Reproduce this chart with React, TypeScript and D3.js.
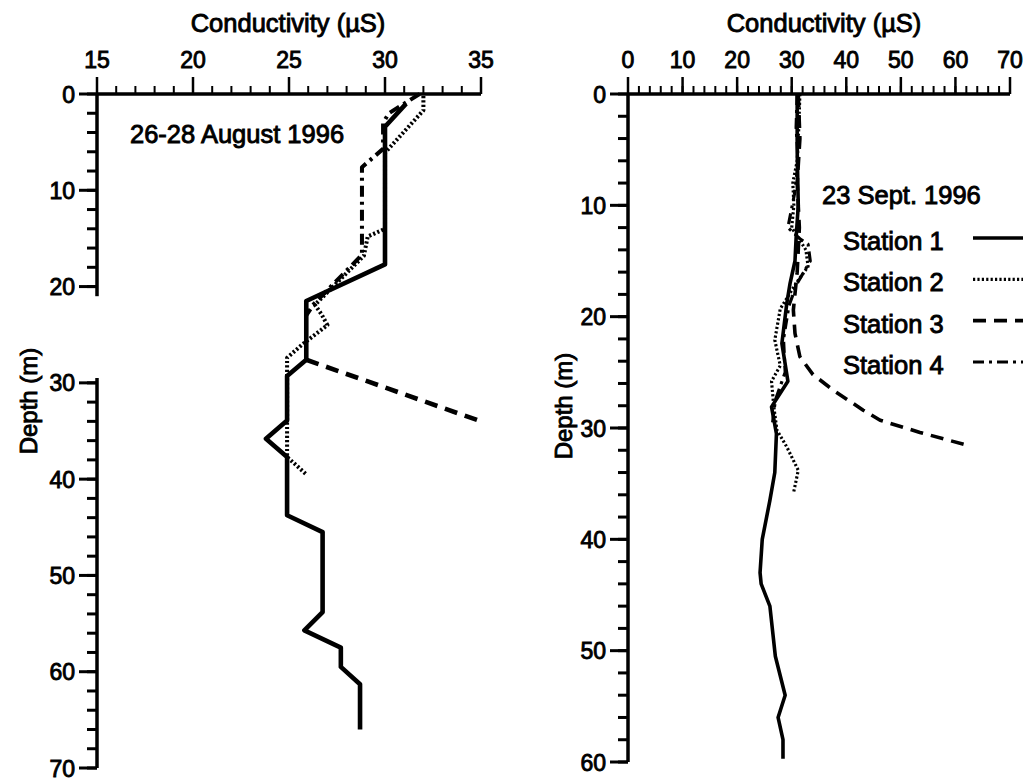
import React from "react";
import * as d3 from "d3";

// ---- 26-28 August 1996 profiles (conductivity µS, depth m) ----
const augSt1Cond = [31.1, 30.0, 30.0, 25.9, 25.9, 24.9, 24.9, 23.8, 24.9, 24.9, 26.75, 26.75, 25.8, 27.7, 27.7, 28.7, 28.7];
const augSt1Depth = [1.0, 3.4, 17.7, 21.5, 27.6, 29.3, 33.9, 35.8, 37.7, 43.75, 45.5, 53.8, 55.7, 57.5, 59.5, 61.3, 66.0];

const augSt2Cond = [32.0, 32.0, 30.0, 30.0, 29.1, 28.9, 26.35, 26.7, 27.0, 25.7, 24.9, 24.9, 24.9, 25.9];
const augSt2Depth = [0.2, 1.7, 6.1, 14.0, 14.8, 16.8, 21.9, 22.9, 24.0, 26.0, 27.4, 28.4, 37.7, 39.5];

const augSt3Cond = [25.9, 35.0];
const augSt3Depth = [27.6, 34.0];

const augSt4Cond = [31.8, 30.2, 29.9, 29.9, 28.8, 28.8, 26.3, 25.9];
const augSt4Depth = [0.0, 2.0, 3.0, 5.7, 7.6, 16.7, 21.8, 23.0];

// ---- 23 Sept. 1996 profiles ----
const sepSt1Cond = [31.0, 31.0, 31.2, 30.8, 30.6, 29.7, 29.1, 28.2, 29.3, 26.3, 27.2, 26.9, 26.0, 24.6, 24.2, 24.4, 26.0, 27.0, 28.8, 27.5, 28.4, 28.4];
const sepSt1Depth = [0, 5, 10, 13, 15, 17, 18.8, 22.4, 25.8, 28.1, 30.5, 34.0, 36.5, 40, 43, 44, 46, 50.5, 54, 56, 58, 59.7];

const sepSt2Cond = [31.5, 31.3, 31.0, 30.2, 30.4, 30.0, 32.6, 33.0, 30.8, 27.9, 26.9, 27.9, 26.3, 26.7, 27.3, 29.1, 31.2, 30.3];
const sepSt2Depth = [0, 3, 6, 8, 10, 12, 14, 15.5, 17, 19.3, 22.1, 24.4, 25.8, 28.0, 30.2, 31.7, 33.8, 35.9];

const sepSt3Cond = [31.2, 31.5, 31.0, 31.4, 31.0, 30.3, 30.6, 31.5, 33.9, 37.6, 43.1, 46.2, 53.5, 61.8];
const sepSt3Depth = [0, 4, 8, 12, 16, 19.4, 21.5, 23.6, 25.2, 26.6, 28.4, 29.3, 30.4, 31.5];

const sepSt4Cond = [31.0, 30.8, 31.2, 30.5, 29.3, 31.5, 33.0, 33.4, 31.0, 29.5, 28.5, 28.8, 27.0, 26.5];
const sepSt4Depth = [0, 3, 6, 9, 12, 13, 13.5, 15, 17, 19, 22, 25, 27.5, 29.5];

// ---- axis ticks and labels ----
const augCondTicks = [15, 20, 25, 30, 35];
const augDepthTicks = [0, 10, 20, 30, 40, 50, 60, 70];
const sepCondTicks = [0, 10, 20, 30, 40, 50, 60, 70];
const sepDepthTicks = [0, 10, 20, 30, 40, 50, 60];
const stationNames = ["Station 1", "Station 2", "Station 3", "Station 4"];
const augTitle = "26-28 August 1996";
const sepTitle = "23 Sept. 1996";
const xTitle = "Conductivity (\u00b5S)";
const yTitle = "Depth (m)";

const FONT = "'Liberation Sans', Arial, Helvetica, sans-serif";
const INK = "#000";

type Style = { dash?: string; width: number };
const styles: Style[] = [
  { width: 4 },
  { dash: "2.2,2.2", width: 3.5 },
  { dash: "13,8", width: 4 },
  { dash: "11,5,3,5", width: 3.5 },
];

function zip(a: number[], b: number[]): [number, number][] {
  return a.map((v, i) => [v, b[i]] as [number, number]);
}

// heavy sans label, outlined a little to give the dense printed look
function Label(props: {
  x: number;
  y: number;
  size: number;
  anchor?: "start" | "middle" | "end";
  rotate?: number;
  children: React.ReactNode;
}) {
  const { x, y, size, anchor = "start", rotate = 0, children } = props;
  return (
    <text
      transform={`translate(${x},${y}) rotate(${rotate})`}
      textAnchor={anchor}
      fontSize={size}
      fontFamily={FONT}
      fill={INK}
      stroke={INK}
      strokeWidth={0.9}
    >
      {children}
    </text>
  );
}

interface PanelProps {
  xDomain: [number, number];
  xRange: [number, number];
  yDomain: [number, number];
  yRange: [number, number];
  xTicks: number[];
  yTicks: number[];
  xMinorStep: number;
  yMinorStep: number;
  series: [number, number][][];
  lineScale: number;
  titleX: number;
  yLabelX: number;
  yLabelY: number;
  yBreak?: [number, number];
}

function Panel(p: PanelProps) {
  const x = d3.scaleLinear().domain(p.xDomain).range(p.xRange);
  const y = d3.scaleLinear().domain(p.yDomain).range(p.yRange);
  const line = d3
    .line<[number, number]>()
    .x((d) => x(d[0]))
    .y((d) => y(d[1]));

  const x0 = p.xRange[0];
  const y0 = p.yRange[0];
  const xMinor = d3.range(p.xDomain[0], p.xDomain[1] + 1e-9, p.xMinorStep);
  const yMinor = d3.range(p.yDomain[0], p.yDomain[1] + 1e-9, p.yMinorStep);
  const inBreak = (v: number) => !!p.yBreak && v > p.yBreak[0] && v < p.yBreak[1];

  const ySegments: [number, number][] = p.yBreak
    ? [
        [p.yDomain[0], p.yBreak[0]],
        [p.yBreak[1], p.yDomain[1]],
      ]
    : [p.yDomain];

  return (
    <g>
      {/* data profiles */}
      {p.series.map((s, i) => (
        <path
          key={i}
          d={line(s) || ""}
          fill="none"
          stroke={INK}
          strokeWidth={styles[i].width * p.lineScale}
          strokeDasharray={styles[i].dash}
          strokeLinejoin="round"
        />
      ))}

      {/* top conductivity axis */}
      <line x1={x0} x2={p.xRange[1]} y1={y0} y2={y0} stroke={INK} strokeWidth={3.5} />
      {xMinor.map((v) => (
        <line key={"xm" + v} x1={x(v)} x2={x(v)} y1={y0} y2={y0 - 8} stroke={INK} strokeWidth={2} />
      ))}
      {p.xTicks.map((v) => (
        <g key={"xt" + v}>
          <line x1={x(v)} x2={x(v)} y1={y0} y2={y0 - 17} stroke={INK} strokeWidth={2.5} />
          <Label x={x(v)} y={68} size={23} anchor="middle">
            {v}
          </Label>
        </g>
      ))}
      <Label x={p.titleX} y={32} size={25.5} anchor="middle">
        {xTitle}
      </Label>

      {/* left depth axis */}
      {ySegments.map((seg, i) => (
        <line key={"ys" + i} x1={x0} x2={x0} y1={y(seg[0])} y2={y(seg[1])} stroke={INK} strokeWidth={3.5} />
      ))}
      {yMinor
        .filter((v) => !inBreak(v))
        .map((v) => (
          <line key={"ym" + v} x1={x0} x2={x0 - 10} y1={y(v)} y2={y(v)} stroke={INK} strokeWidth={3} />
        ))}
      {p.yTicks.map((v) => (
        <g key={"yt" + v}>
          <line x1={x0} x2={x0 - 18} y1={y(v)} y2={y(v)} stroke={INK} strokeWidth={3} />
          <Label x={x0 - 22} y={y(v) + 8.5} size={23} anchor="end">
            {v}
          </Label>
        </g>
      ))}
      <Label x={p.yLabelX} y={p.yLabelY} size={24} anchor="middle" rotate={-90}>
        {yTitle}
      </Label>
    </g>
  );
}

export default function App() {
  const augSeries = [
    zip(augSt1Cond, augSt1Depth),
    zip(augSt2Cond, augSt2Depth),
    zip(augSt3Cond, augSt3Depth),
    zip(augSt4Cond, augSt4Depth),
  ];
  const sepSeries = [
    zip(sepSt1Cond, sepSt1Depth),
    zip(sepSt2Cond, sepSt2Depth),
    zip(sepSt3Cond, sepSt3Depth),
    zip(sepSt4Cond, sepSt4Depth),
  ];

  const legendY = d3.scaleLinear().domain([0, 3]).range([238, 362]);

  return (
    <svg
      width={1031}
      height={783}
      style={{ position: "absolute", left: 0, top: 0, background: "#fff" }}
    >
      <rect width={1031} height={783} fill="#fff" />
      <Panel
        xDomain={[15, 35]}
        xRange={[97, 481]}
        yDomain={[0, 70]}
        yRange={[94, 768]}
        xTicks={augCondTicks}
        yTicks={augDepthTicks}
        xMinorStep={1}
        yMinorStep={2}
        series={augSeries}
        lineScale={1.15}
        titleX={288}
        yLabelX={37}
        yLabelY={401}
        yBreak={[21, 29.5]}
      />
      <Label x={130} y={143} size={25.5}>
        {augTitle}
      </Label>

      <Panel
        xDomain={[0, 70]}
        xRange={[628, 1010]}
        yDomain={[0, 60]}
        yRange={[94, 762]}
        xTicks={sepCondTicks}
        yTicks={sepDepthTicks}
        xMinorStep={2}
        yMinorStep={2}
        series={sepSeries}
        lineScale={0.9}
        titleX={824}
        yLabelX={572}
        yLabelY={406}
      />
      <Label x={822} y={204} size={25.5}>
        {sepTitle}
      </Label>
      {stationNames.map((name, i) => (
        <g key={name}>
          <Label x={843} y={legendY(i) + 12} size={25.5}>
            {name}
          </Label>
          <line
            x1={973}
            x2={1023}
            y1={legendY(i)}
            y2={legendY(i)}
            stroke={INK}
            strokeWidth={styles[i].width * 0.9}
            strokeDasharray={styles[i].dash}
          />
        </g>
      ))}
    </svg>
  );
}
